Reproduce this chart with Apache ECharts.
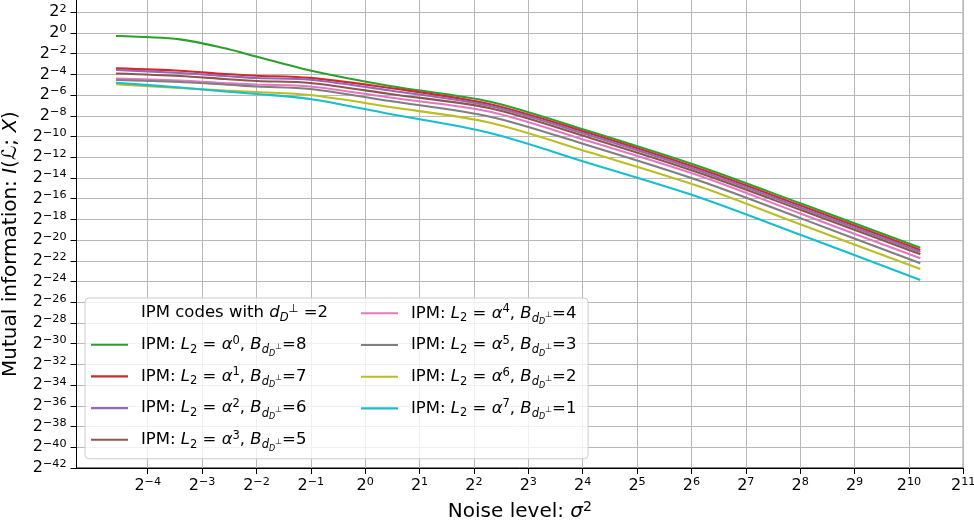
<!DOCTYPE html>
<html>
<head>
<meta charset="utf-8">
<script src="https://cdn.jsdelivr.net/npm/echarts@6/dist/echarts.min.js"></script>
<style>
html,body{margin:0;padding:0;background:#fff;}
#chart{width:974px;height:523px;}
</style>
</head>
<body>
<div id="chart"></div>
<script>
// ---- data (values stored as log2 exponents) ----
const xLog2 = [-4.583, -3.406, -2.578, -1.989, -1.014, 0.458, 2.298, 4.138, 6.162, 8.002, 10.210];
const yLog2_a0 = [-0.30, -0.62, -1.49, -2.30, -3.63, -5.13, -6.64, -9.52, -12.92, -16.45, -20.74];
const yLog2_a1 = [-3.42, -3.65, -3.97, -4.13, -4.34, -5.32, -6.89, -9.71, -13.14, -16.66, -20.96];
const yLog2_a2 = [-3.58, -3.87, -4.16, -4.36, -4.52, -5.56, -7.06, -9.91, -13.33, -16.86, -21.15];
const yLog2_a3 = [-3.92, -4.16, -4.45, -4.64, -4.83, -5.90, -7.28, -10.15, -13.55, -17.08, -21.37];
const yLog2_a4 = [-4.40, -4.60, -4.84, -4.98, -5.17, -6.24, -7.61, -10.49, -13.81, -17.44, -21.76];
const yLog2_a5 = [-4.55, -4.74, -4.98, -5.18, -5.42, -6.58, -8.09, -10.92, -14.30, -17.88, -22.24];
const yLog2_a6 = [-4.96, -5.32, -5.56, -5.71, -6.00, -7.15, -8.67, -11.55, -14.85, -18.48, -22.79];
const yLog2_a7 = [-4.81, -5.27, -5.66, -5.90, -6.38, -7.83, -9.66, -12.61, -15.91, -19.49, -23.85];
const seriesY = [yLog2_a0, yLog2_a1, yLog2_a2, yLog2_a3, yLog2_a4, yLog2_a5, yLog2_a6, yLog2_a7];
const l2Powers = [0, 1, 2, 3, 4, 5, 6, 7];
const bValues = [8, 7, 6, 5, 4, 3, 2, 1];
const colors = ['#2ca02c', '#d62728', '#9467bd', '#8c564b', '#e377c2', '#7f7f7f', '#bcbd22', '#17becf'];
const xTickExps = [-4, -3, -2, -1, 0, 1, 2, 3, 4, 5, 6, 7, 8, 9, 10, 11];
const yTickExps = [-42, -40, -38, -36, -34, -32, -30, -28, -26, -24, -22, -20, -18, -16, -14, -12, -10, -8, -6, -4, -2, 0, 2];
const headerName = 'IPM codes with d_D^⊥=2';
const seriesNames = l2Powers.map((k, i) => 'IPM: L2 = α^' + k + ', B = ' + bValues[i]);

const FF = 'DejaVu Sans';
const chart = echarts.init(document.getElementById('chart'), null, {renderer: 'canvas'});

function expLabel(v) {
  const e = Math.round(Math.log2(v));
  const s = e < 0 ? '\u2212' + Math.abs(e) : String(e);
  return '{b|2}{s|' + s + '}';
}
const tickRich = {
  b: {fontFamily: FF, fontSize: 16, lineHeight: 20, color: '#000'},
  s: {fontFamily: FF, fontSize: 11.2, lineHeight: 20, color: '#000', padding: [0, 0, 7, 0]}
};

function legendLabel(name) {
  if (name === headerName) {
    return 'IPM codes with {i|d}{hsub|D}{hsup|\u22A5}{b| =2}';
  }
  const k = seriesNames.indexOf(name);
  return 'IPM: {i|L}{sub|2}{b| = }{i|\u03B1}{sup|' + l2Powers[k] + '}, {i|B}{si|d}{tsub|D}{tsup|\u22A5}=' + bValues[k];
}
const LFS = 16.5;
const LH = 28;
const legendRich = {
  b: {fontFamily: FF, fontSize: LFS, lineHeight: LH, color: '#000'},
  i: {fontFamily: FF, fontSize: LFS, lineHeight: LH, fontStyle: 'italic', color: '#000'},
  sub: {fontFamily: FF, fontSize: 11.5, color: '#000', padding: [10, 0, 0, 0]},
  sup: {fontFamily: FF, fontSize: 11.5, color: '#000', padding: [0, 0, 8, 0]},
  si: {fontFamily: FF, fontSize: 11.5, fontStyle: 'italic', color: '#000', padding: [11, 0, 0, 0]},
  tsub: {fontFamily: FF, fontSize: 8, fontStyle: 'italic', color: '#000', padding: [18, 0, 0, 0]},
  tsup: {fontFamily: FF, fontSize: 8, color: '#000', padding: [4, 0, 0, 0]},
  hsub: {fontFamily: FF, fontSize: 11.5, fontStyle: 'italic', color: '#000', padding: [10, 0, 0, 0]},
  hsup: {fontFamily: FF, fontSize: 11.5, color: '#000', padding: [0, 0, 7, 0]}
};
const legendCommon = {
  orient: 'vertical',
  itemGap: 3.7,
  itemWidth: 37,
  itemHeight: 2.1,
  selectedMode: false,
  formatter: legendLabel,
  textStyle: {fontFamily: FF, fontSize: LFS, lineHeight: LH, color: '#000', padding: [0, 0, 0, 8], rich: legendRich}
};

const series = [{name: headerName, type: 'line', data: [], symbol: 'none', lineStyle: {width: 0}, color: 'rgba(0,0,0,0)'}];
seriesY.forEach((ys, i) => {
  series.push({
    name: seriesNames[i],
    type: 'line',
    symbol: 'none',
    smooth: 0.3,
    color: colors[i],
    lineStyle: {width: 2.1, color: colors[i]},
    data: xLog2.map((e, j) => [Math.pow(2, e), Math.pow(2, ys[j])])
  });
});

const option = {
  animation: false,
  backgroundColor: '#fff',
  grid: {left: 76.5, right: 10.7, top: -2, bottom: 55, outerBoundsMode: 'none', containLabel: false,
         show: true, borderColor: '#000', borderWidth: 1, backgroundColor: 'transparent'},
  xAxis: {
    type: 'log', logBase: 2,
    min: Math.pow(2, -5.31), max: Math.pow(2, 11.0005),
    name: 'Noise level: {i|\u03C3}{s|2}',
    nameLocation: 'middle', nameGap: 18.5,
    nameTextStyle: {fontFamily: FF, fontSize: 20, color: '#000', lineHeight: 22,
      rich: {i: {fontFamily: FF, fontSize: 20, fontStyle: 'italic', lineHeight: 22, color: '#000'},
             s: {fontFamily: FF, fontSize: 14, color: '#000', padding: [0, 0, 10, 0]}}},
    axisLine: {show: true, lineStyle: {color: '#000', width: 1}},
    axisTick: {show: true, length: 6, lineStyle: {color: '#000', width: 1}, customValues: xTickExps.map(e => Math.pow(2, e))},
    axisLabel: {show: true, margin: 8, formatter: expLabel, rich: tickRich, customValues: xTickExps.map(e => Math.pow(2, e))},
    splitLine: {show: true, lineStyle: {color: '#b8b8b8', width: 1}},
    minorTick: {show: false}, minorSplitLine: {show: false}
  },
  yAxis: {
    type: 'log', logBase: 2,
    min: Math.pow(2, -42.001), max: Math.pow(2, 3.37),
    name: 'Mutual information: {i|I}(\u2112; {i|X})',
    nameLocation: 'middle', nameGap: 40.5,
    nameTextStyle: {fontFamily: FF, fontSize: 20, color: '#000', lineHeight: 22, padding: [0, 22, 0, 0],
      rich: {i: {fontFamily: FF, fontSize: 20, fontStyle: 'italic', lineHeight: 22, color: '#000'}}},
    axisLine: {show: true, lineStyle: {color: '#000', width: 1}},
    axisTick: {show: true, length: 6, lineStyle: {color: '#000', width: 1}, customValues: yTickExps.map(e => Math.pow(2, e))},
    axisLabel: {show: true, margin: 10, formatter: expLabel, rich: tickRich, customValues: yTickExps.map(e => Math.pow(2, e))},
    splitLine: {show: true, lineStyle: {color: '#b8b8b8', width: 1}},
    minorTick: {show: false}, minorSplitLine: {show: false}
  },
  legend: [
    Object.assign({}, legendCommon, {
      left: 85, top: 298,
      padding: [1, 260, 5, 6],
      backgroundColor: 'rgba(255,255,255,0.8)',
      borderColor: '#cccccc', borderWidth: 1, borderRadius: 4,
      data: [{name: headerName, icon: 'none'}].concat(seriesNames.slice(0, 4).map(n => ({name: n, icon: 'rect'})))
    }),
    Object.assign({}, legendCommon, {
      left: 361, top: 299.3,
      padding: 0,
      data: seriesNames.slice(4).map(n => ({name: n, icon: 'rect'}))
    })
  ],
  series: series
};
chart.setOption(option);
</script>
</body>
</html>
